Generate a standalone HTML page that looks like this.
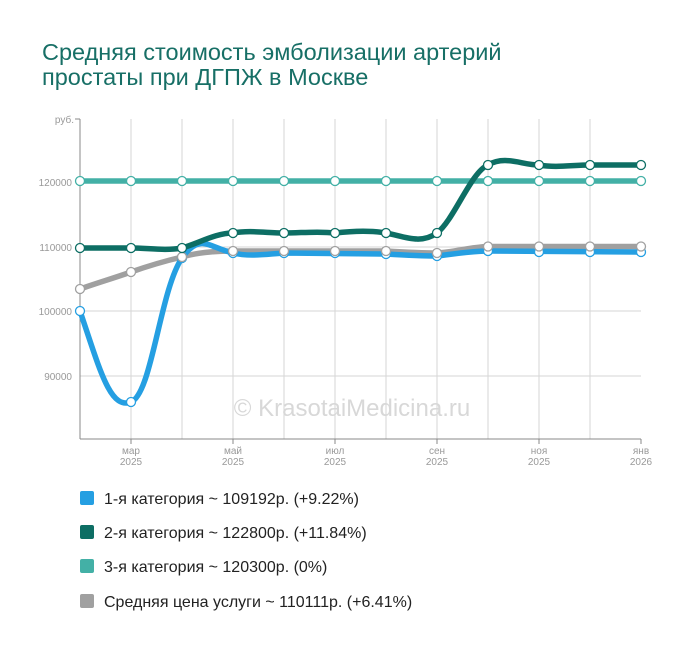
<!DOCTYPE html><html><head><meta charset="utf-8"><style>
body{margin:0;background:#fff;width:700px;height:650px;overflow:hidden;font-family:"Liberation Sans",sans-serif}
</style></head><body>
<svg width="700" height="650" xmlns="http://www.w3.org/2000/svg" font-family="Liberation Sans, sans-serif">
<text x="42" y="60" font-size="23.5" fill="#176f66">Средняя стоимость эмболизации артерий</text>
<text x="42" y="85" font-size="23.5" fill="#176f66">простаты при ДГПЖ в Москве</text>
<g stroke="#d6d6d6" stroke-width="1">
<line x1="131" y1="119" x2="131" y2="439"/><line x1="182" y1="119" x2="182" y2="439"/><line x1="233" y1="119" x2="233" y2="439"/><line x1="284" y1="119" x2="284" y2="439"/><line x1="335" y1="119" x2="335" y2="439"/><line x1="386" y1="119" x2="386" y2="439"/><line x1="437" y1="119" x2="437" y2="439"/><line x1="488" y1="119" x2="488" y2="439"/><line x1="539" y1="119" x2="539" y2="439"/><line x1="590" y1="119" x2="590" y2="439"/>
<line x1="80" y1="182" x2="641" y2="182"/><line x1="80" y1="247" x2="641" y2="247"/><line x1="80" y1="311" x2="641" y2="311"/><line x1="80" y1="376" x2="641" y2="376"/>
</g>
<g stroke="#888" stroke-width="1"><line x1="80" y1="119" x2="80" y2="439"/><line x1="80" y1="439" x2="641" y2="439"/><line x1="75" y1="119" x2="80" y2="119"/>
<line x1="131" y1="439" x2="131" y2="444"/><line x1="233" y1="439" x2="233" y2="444"/><line x1="335" y1="439" x2="335" y2="444"/><line x1="437" y1="439" x2="437" y2="444"/><line x1="539" y1="439" x2="539" y2="444"/><line x1="641" y1="439" x2="641" y2="444"/></g>
<g font-size="10" fill="#999" text-anchor="end"><text x="74" y="123">руб.</text><text x="72" y="186">120000</text><text x="72" y="251">110000</text><text x="72" y="315">100000</text><text x="72" y="380">90000</text></g>
<g font-size="10" fill="#999" text-anchor="middle">
<text x="131" y="454">мар</text><text x="131" y="465">2025</text><text x="233" y="454">май</text><text x="233" y="465">2025</text><text x="335" y="454">июл</text><text x="335" y="465">2025</text><text x="437" y="454">сен</text><text x="437" y="465">2025</text><text x="539" y="454">ноя</text><text x="539" y="465">2025</text><text x="641" y="454">янв</text><text x="641" y="465">2026</text></g>
<text x="352" y="416" font-size="24" fill="#d8d8d8" text-anchor="middle">© KrasotaiMedicina.ru</text>
<g fill="none" stroke-linecap="round" stroke-width="5.5">
<path stroke="#43b0a6" d="M80,181 L641,181"/>
<path stroke="#a0a0a0" d="M80,289 C97,283 114,278 131,272 C148,266 165,261 182,257 C199,252 216,251 233,251 L386,251 C403,252 420,253 437,253 C454,252 471,247 488,246.5 L641,246.5"/>
<path stroke="#259fe2" d="M80,311 C100,370 110,410 131,402 C152,394 160,290 182,258 C200,232 210,248 233,253 C250,257 267,254 284,253 L386,254 C403,255 420,256 437,256 C454,254 471,251 488,251 L641,252"/>
<path stroke="#0d6e64" d="M80,248 L131,248 C148,248 165,251 182,248 C199,243 216,233 233,233 C250,230 267,233 284,233 C301,233 318,231 335,233 C352,231 369,230 386,233 C403,236 420,245 437,233 C454,220 471,172 488,165 C505,155 522,165 539,165 C556,168 573,165 590,165 L641,165"/>
</g>
<g fill="#fff" stroke-width="1.3">
<g stroke="#43b0a6"><circle cx="80" cy="181" r="4.5"/><circle cx="131" cy="181" r="4.5"/><circle cx="182" cy="181" r="4.5"/><circle cx="233" cy="181" r="4.5"/><circle cx="284" cy="181" r="4.5"/><circle cx="335" cy="181" r="4.5"/><circle cx="386" cy="181" r="4.5"/><circle cx="437" cy="181" r="4.5"/><circle cx="488" cy="181" r="4.5"/><circle cx="539" cy="181" r="4.5"/><circle cx="590" cy="181" r="4.5"/><circle cx="641" cy="181" r="4.5"/></g>
<g stroke="#259fe2"><circle cx="80" cy="311" r="4.5"/><circle cx="131" cy="402" r="4.5"/><circle cx="182" cy="258" r="4.5"/><circle cx="233" cy="253" r="4.5"/><circle cx="284" cy="253" r="4.5"/><circle cx="335" cy="253" r="4.5"/><circle cx="386" cy="254" r="4.5"/><circle cx="437" cy="256" r="4.5"/><circle cx="488" cy="251" r="4.5"/><circle cx="539" cy="252" r="4.5"/><circle cx="590" cy="252" r="4.5"/><circle cx="641" cy="252" r="4.5"/></g>
<g stroke="#a0a0a0"><circle cx="80" cy="289" r="4.5"/><circle cx="131" cy="272" r="4.5"/><circle cx="182" cy="257" r="4.5"/><circle cx="233" cy="251" r="4.5"/><circle cx="284" cy="251" r="4.5"/><circle cx="335" cy="251" r="4.5"/><circle cx="386" cy="251" r="4.5"/><circle cx="437" cy="253" r="4.5"/><circle cx="488" cy="246.5" r="4.5"/><circle cx="539" cy="246.5" r="4.5"/><circle cx="590" cy="246.5" r="4.5"/><circle cx="641" cy="246.5" r="4.5"/></g>
<g stroke="#0d6e64"><circle cx="80" cy="248" r="4.5"/><circle cx="131" cy="248" r="4.5"/><circle cx="182" cy="248" r="4.5"/><circle cx="233" cy="233" r="4.5"/><circle cx="284" cy="233" r="4.5"/><circle cx="335" cy="233" r="4.5"/><circle cx="386" cy="233" r="4.5"/><circle cx="437" cy="233" r="4.5"/><circle cx="488" cy="165" r="4.5"/><circle cx="539" cy="165" r="4.5"/><circle cx="590" cy="165" r="4.5"/><circle cx="641" cy="165" r="4.5"/></g>
</g>
<g font-size="16" fill="#222">
<rect x="80" y="491" width="14" height="14" rx="2" fill="#259fe2"/><text x="104" y="504">1-я категория ~ 109192р. (+9.22%)</text>
<rect x="80" y="525" width="14" height="14" rx="2" fill="#0d6e64"/><text x="104" y="538">2-я категория ~ 122800р. (+11.84%)</text>
<rect x="80" y="559" width="14" height="14" rx="2" fill="#43b0a6"/><text x="104" y="572">3-я категория ~ 120300р. (0%)</text>
<rect x="80" y="594" width="14" height="14" rx="2" fill="#a0a0a0"/><text x="104" y="607">Средняя цена услуги ~ 110111р. (+6.41%)</text>
</g>
</svg>
</body></html>
